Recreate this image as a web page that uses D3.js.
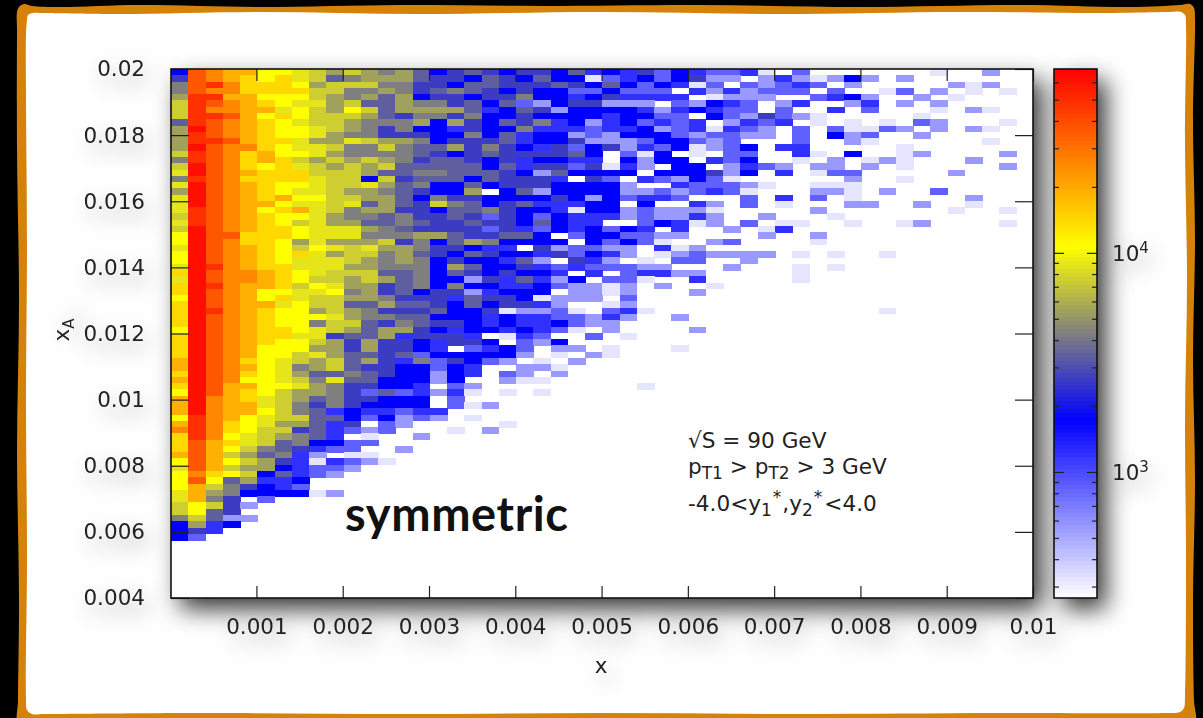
<!DOCTYPE html>
<html>
<head>
<meta charset="utf-8">
<script src="https://cdn.jsdelivr.net/npm/d3@7"></script>
<style>
html,body{margin:0;padding:0;background:#000;overflow:hidden;}
svg{display:block;}
text{font-family:'DejaVu Sans',sans-serif;fill:#222;}
</style>
</head>
<body>
<div class="canvas"></div>
<script>
//Histogram cell codes. '.' is an empty bin
var levelCodes = ['a','b','c','d','e','f','g','h','i','j','k','l','m','n','o','p','q','r'];
var levelCounts = [321,560,850,1200,1722,2640,3390,4280,5450,7490,8880,10700,14200,19000,25600,36600,48400,61600];

//One string per x_A bin from the top, one letter per x bin from the left
var cellRows = [
"eponnllkjijihigef"+"gfeffegdedfcedcc"+"da.c.......a..b..",
"fponmlmkjghiiigff"+"egfegeeacdecefbb"+".bdbabeb.b.......",
"hpqommmlijjjhhffe"+"ggfffgfegecedac."+"cbcdc.b.....bab..",
"hpoommmmjjhhihfgh"+"gfefeecceccc.dbd"+"bccc.c..ac.b.a.a.",
"iqqnnllljihigieff"+"effheedefdddd.ab"+"bb..cdeb..b.a....",
"jqponmlkkijggihhf"+"gegcbeffbbb.cbed"+"c.bd..bd.b.b.....",
"jqoonnkljiljgiiii"+"gdegfbeeeedbdedc"+"c.c..d.c...a.ba..",
"jqqpnlmljjjigfhhf"+"heefeeeedeecc.ec"+"bfcba.....a......",
"gqponmlkjjihhhiei"+"fegfhdebdecdcd.b"+"dcd.a.a.a.cb...a.",
"irponmllkjihfheed"+"feehdddcddebcdad"+"cb.c.caacb.b.ba..",
"iqponmllkihhfffee"+"hegdeebcbeeecbcc"+"bb.c.ebc..b......",
"iqqpnmmkiikjiihef"+"ffgdeefbbbceecbc"+"...c..ba......a..",
"irpoomlkkjhhjhggi"+"fhfedfcefbdceabc"+"e.dd.....a.......",
"jqpomnllkihhhhgfe"+"fgffffge.cae.a.c"+"c..da.e..ab....b.",
"hqpomnmjijijihfgg"+"fefdeedd.ebee.dc"+"e..a.b.aba...b...",
"jrpomlmkjijijgggg"+"gegdffcfadb.ee.b"+"dcb.bb.b.a.....b.",
"krponmmmjjjigghhg"+"ggfebgeeee.eeefb"+"e.d.acc.....b....",
"hqpommmmkjjejfggg"+"egfffd.fc.dcbeca"+"......b..a.......",
"krponmllkjjkighee"+"gefffeeeeb..dccc"+"ba..aaa..........",
"irponmlkkjiihgfee"+"i.egbeeeebbcbcdc"+"a...bba.b..c.....",
"krponmnlljjiigehf"+"feeeefebecddc..."+"c.d.c.a......b...",
"krponnlkkjkgigfjh"+"gefgdddee.e..db."+"c.a...bb..b..a...",
"kqponlmnkjhiiffeg"+"ghfeedaeebcbbba."+"....b.......a..a.",
"jqponmllkihhghffg"+"fcfecedddbcbbdb."+".b...a...........",
"kqponmljkiigghgff"+"gffegedd..cedab."+"c.aa..a..ab....a.",
"jrponmmlkkkihgfff"+"fcfdcedeced.d..b"+".ad..............",
"lrppmmmlkkkhhhiig"+"ffgge.ceeccbb..."+".b..b............",
"lrpommlikiiijfheg"+"iheeee.ececa..bc"+"....a............",
"krponmljlkjkiihff"+"edd.fbccbb.dab.."+".................",
"lrponmlmkijjhigfe"+"gfeedfcedb.abcbb"+"bb.a.a..a........",
"lrponmlkkkjihihef"+"eedgb.fdb.a.cc.."+"b................",
"krqonmmkkkiihhhei"+"geefdcdcccbb...b"+"...a.a...........",
"mrpoonmlkjjjggheg"+"fefeed.d.cddbb.."+"...a.............",
"krpoonmljjijighee"+"bfdgdbe.cca..d.."+"...a.............",
"mrqonnmjlkiifgheh"+"eeddecbbab.b..a."+".................",
"mrponllkklhifgeff"+"bdeee.bbab...b.."+".................",
"lrponlmkjjiihfffd"+"gffeabbb.c......"+".................",
"mrponnkljjggiggfe"+"geffdb..ab......"+".................",
"mrqonmllijihfffge"+"efabbca.cda....."+"........a........",
"mrponmlllkihhggee"+"ededdccbdb..b...",
"mrponmllhjjgfhgff"+"ededdecbb.......",
"lrponmmlkjigiifed"+"eededca.b....b..",
"mrponmmkkfggidfff"+"d.adc..c.a......",
"mrponmlljififfedf"+"fe.cbe..........",
"mrponllliififfed."+"cdec.bb.a...a...",
"mrponlljkiggfgcee"+"eeeb.a.ba.......",
"nrpomlkjijgifdhcf"+"ecb.a.b.........",
"nrponlkhijgffeece"+"d..bba..........",
"mrpomlkigghgfeebe"+"d.cb.b..........",
"nrpollkjhkggeeebe"+"..baa...........",
"mrpnnllkihffeed.c"+"b.........a.....",
"lrpnmljiihfcgcdbd"+"a.a.a...........",
"nronmkjighffeee.c",
"nronnkjhfhfeeee.c"+"ab..............",
"nronnljhgdeddcdd.",
"lqonlkjjggecebcb."+"a...............",
"nqomlkiigdf.cb..."+"..a.............",
"oqomljjfgdcbc...a"+".b..............",
"mqolkjihgd.a..b..",
"mpnmkjgheecc.....",
"mpnljhgfdcc..b...",
"npnjighdb.aa.....",
"lpnljifdadcba....",
"kpnjiiedccb......",
"lomljegdcb.......",
"lplgidde.........",
"lnjhfedc.........",
"kniheeeeab",
"knhf.c",
"jljfb",
"jlgf",
"hjgbb",
"eide",
"efd",
"ec"
];

var xTicks = [0.001,0.002,0.003,0.004,0.005,0.006,0.007,0.008,0.009,0.01];
var yTicks = [0.004,0.006,0.008,0.01,0.012,0.014,0.016,0.018,0.02];
var zMajor = [1000,10000];
var zMinor = [300,400,500,600,700,800,900,2000,3000,4000,5000,6000,7000,8000,9000,20000,30000,40000,50000,60000];
var zStops = [266,1722,10670];
var zColors = ['#ffffff','#0000ff','#ffff00','#ff0000'];

//Wobbly picture frame, traced by eye
var frameOuter = [[17,12],[19,7],[24,4],[32,6],[60,7],[140,5],[260,7],[400,5],[540,6],[700,5],[860,7],[1020,5],[1130,7],[1180,5],[1190,4],[1194,8],[1195,20],[1193,120],[1195,240],[1193,360],[1195,480],[1193,600],[1194,700],[1195,722],[1180,724],[1100,722],[800,722],[500,722],[200,722],[30,722],[18,722],[18,700],[19,600],[17,450],[19,300],[17,150],[17,30]];
var frameInner = [[27,20],[28,15],[33,13],[45,13],[120,14],[260,12],[420,14],[600,12],[780,14],[960,12],[1100,13],[1170,12],[1181,12],[1185,15],[1186,26],[1185,140],[1187,280],[1185,420],[1186,560],[1185,695],[1184,708],[1180,712],[1165,713],[1000,713],[800,714],[600,713],[400,714],[200,713],[45,714],[32,714],[27,710],[26,698],[27,560],[26,400],[27,240],[26,100],[26,35]];

var margin = {t:69,r:106,b:120,l:171};
var width = 1203, height = 718;
var plotW = 862, plotH = 529;
var barX = 1054, barW = 43;
var binX = 0.0002, binY = 0.00019, xMin = 0.00001, xMax = 0.01, yMin = 0.004, yMax = 0.02;

var svg = d3.select('.canvas')
    .append('svg')
    .attr('width',width)
    .attr('height',height);

var defs = svg.append('defs');
var boxShadow = defs.append('filter').attr('id','boxShadow')
    .attr('filterUnits','userSpaceOnUse')
    .attr('x',0).attr('y',0).attr('width',width).attr('height',height);
boxShadow.append('feDropShadow')
    .attr('dx',9).attr('dy',11).attr('stdDeviation',12)
    .attr('flood-color','#000').attr('flood-opacity',0.8);
//Region is wide because the labels sit in translated and rotated groups
var textShadow = defs.append('filter').attr('id','textShadow')
    .attr('filterUnits','userSpaceOnUse')
    .attr('x',-1500).attr('y',-1000).attr('width',3000).attr('height',2000);
textShadow.append('feDropShadow')
    .attr('dx',5).attr('dy',9).attr('stdDeviation',11)
    .attr('flood-color','#000').attr('flood-opacity',0.4);

//Frame
var frameLine = d3.line().curve(d3.curveCatmullRomClosed);
svg.append('rect').attr('width',width).attr('height',height).style('fill','#000');
svg.append('path').attr('d',frameLine(frameOuter)).style('fill','#d4820a');
svg.append('path').attr('d',frameLine(frameInner)).style('fill','#fff');

var xScale = d3.scaleLinear().domain([xMin,xMax]).range([margin.l,margin.l+plotW]);
var yScale = d3.scaleLinear().domain([yMin,yMax]).range([margin.t+plotH,margin.t]);
var zScale = d3.scaleLog().domain([zStops[0],zStops[1],zStops[2],69000]).range(zColors).clamp(true);
var zAxisScale = d3.scaleLog().domain([266,69000]).range([margin.t+plotH,margin.t]);
var countOf = d3.scaleOrdinal().domain(levelCodes).range(levelCounts);

//Boxes with their shadows
svg.append('rect')
    .attr('x',margin.l).attr('y',margin.t).attr('width',plotW).attr('height',plotH)
    .style('fill','#fff').attr('filter','url(#boxShadow)');
svg.append('rect')
    .attr('x',barX).attr('y',margin.t).attr('width',barW).attr('height',plotH)
    .style('fill','#fff').attr('filter','url(#boxShadow)');

//Cells
var cellW = xScale(xMin+binX)-xScale(xMin);
var cellH = yScale(yMax-binY)-yScale(yMax);
svg.append('g').attr('shape-rendering','crispEdges')
    .selectAll('g')
    .data(cellRows)
    .enter()
    .append('g')
    .each(function(row,r){
        d3.select(this).selectAll('rect')
            .data(row.split('').map(function(c,i){ return {c:c,i:i,r:r}; }).filter(function(d){ return d.c!=='.'; }))
            .enter()
            .append('rect')
            .attr('x',function(d){ return xScale(xMin+d.i*binX); })
            .attr('y',function(d){ return yScale(yMax-d.r*binY); })
            .attr('width',cellW+0.5)
            .attr('height',cellH+0.5)
            .style('fill',function(d){ return zScale(countOf(d.c)); });
    });

//Colour bar, drawn as thin steps of the same scale
var barSteps = d3.range(margin.t,margin.t+plotH,4);
svg.append('g').attr('shape-rendering','crispEdges')
    .selectAll('rect')
    .data(barSteps)
    .enter()
    .append('rect')
    .attr('x',barX).attr('y',function(d){ return d; })
    .attr('width',barW).attr('height',function(d){ return Math.min(4.5,margin.t+plotH-d); })
    .style('fill',function(d){ return zScale(zAxisScale.invert(d+2)); });

function styleAxis(g){
    g.select('.domain').remove();
    g.selectAll('line').style('stroke','#222').style('stroke-width',1.2);
    g.selectAll('text').style('font-size','21.5px').attr('filter','url(#textShadow)');
}
function tickLabel(d){ return String(+d.toFixed(3)); }

//Plot axes, ticks point inwards on all four sides
svg.append('g').attr('transform','translate(0,'+(margin.t+plotH)+')')
    .call(d3.axisBottom(xScale).tickValues(xTicks).tickSize(-12).tickPadding(21).tickFormat(tickLabel))
    .call(styleAxis);
svg.append('g').attr('transform','translate(0,'+margin.t+')')
    .call(d3.axisTop(xScale).tickValues(xTicks).tickSize(-12).tickFormat(''))
    .call(styleAxis);
svg.append('g').attr('transform','translate('+margin.l+',0)')
    .call(d3.axisLeft(yScale).tickValues(yTicks).tickSize(-18).tickPadding(26).tickFormat(tickLabel))
    .call(styleAxis);
svg.append('g').attr('transform','translate('+(margin.l+plotW)+',0)')
    .call(d3.axisRight(yScale).tickValues(yTicks).tickSize(-18).tickFormat(''))
    .call(styleAxis);

//Colour bar axes
[[zMajor,10],[zMinor,5]].forEach(function(t){
    svg.append('g').attr('transform','translate('+barX+',0)')
        .call(d3.axisLeft(zAxisScale).tickValues(t[0]).tickSize(-t[1]).tickFormat(''))
        .call(styleAxis);
    svg.append('g').attr('transform','translate('+(barX+barW)+',0)')
        .call(d3.axisRight(zAxisScale).tickValues(t[0]).tickSize(-t[1]).tickFormat(''))
        .call(styleAxis);
});

//Box outlines
svg.append('rect')
    .attr('x',margin.l).attr('y',margin.t).attr('width',plotW).attr('height',plotH)
    .style('fill','none').style('stroke','#111').style('stroke-width',1.6);
svg.append('rect')
    .attr('x',barX).attr('y',margin.t).attr('width',barW).attr('height',plotH)
    .style('fill','none').style('stroke','#111').style('stroke-width',1.6);

//Colour bar labels
zMajor.forEach(function(v){
    var t = svg.append('text')
        .attr('x',1112).attr('y',zAxisScale(v)+8)
        .style('font-size','21.5px').attr('filter','url(#textShadow)');
    t.append('tspan').text('10');
    t.append('tspan').attr('dy',-8).style('font-size','15px').text(String(Math.log10(v)));
});

//Axis titles
svg.append('text').attr('x',601).attr('y',673).attr('text-anchor','middle')
    .style('font-size','21.5px').attr('filter','url(#textShadow)').text('x');
var yTitle = svg.append('text')
    .attr('transform','translate(69,330) rotate(-90)').attr('text-anchor','middle')
    .style('font-size','21.5px').attr('filter','url(#textShadow)');
yTitle.append('tspan').text('x');
yTitle.append('tspan').attr('dy',5).style('font-size','15px').text('A');

//Notes inside the plot
svg.append('text').attr('x',345).attr('y',531)
    .style('font-family','Lato,sans-serif').style('font-weight',700).style('font-size','47px')
    .style('letter-spacing','0.6px').style('fill','#111').text('symmetric');

var note1 = svg.append('text').attr('x',688).attr('y',448).style('font-size','21.6px');
note1.text('√S = 90 GeV');

var note2 = svg.append('text').attr('x',688).attr('y',474).style('font-size','21.6px');
note2.append('tspan').text('p');
note2.append('tspan').attr('dy',5).style('font-size','17px').text('T1');
note2.append('tspan').attr('dy',-5).text(' > p');
note2.append('tspan').attr('dy',5).style('font-size','17px').text('T2');
note2.append('tspan').attr('dy',-5).text(' > 3 GeV');

var note3 = svg.append('text').attr('x',688).attr('y',511).style('font-size','21.6px');
note3.append('tspan').text('-4.0<y');
note3.append('tspan').attr('dy',5).style('font-size','17px').text('1');
note3.append('tspan').attr('dy',-13).attr('dx',1).style('font-size','17px').text('*');
note3.append('tspan').attr('dy',8).attr('dx',1).text(',y');
note3.append('tspan').attr('dy',5).style('font-size','17px').text('2');
note3.append('tspan').attr('dy',-13).attr('dx',1).style('font-size','17px').text('*');
note3.append('tspan').attr('dy',8).attr('dx',2).text('<4.0');
</script>
</body>
</html>
